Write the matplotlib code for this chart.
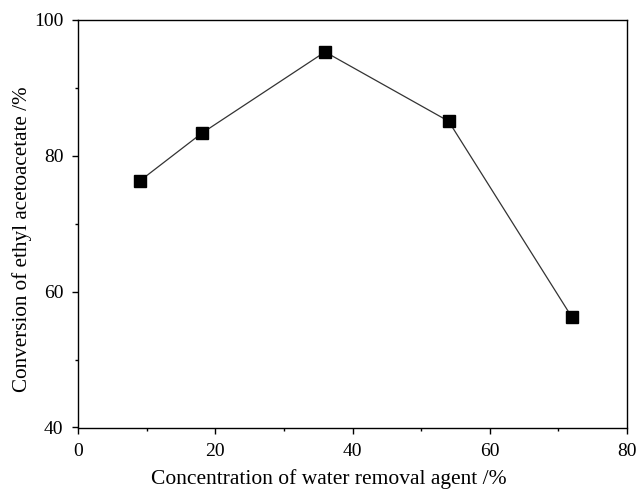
import matplotlib
matplotlib.use("Agg")
import matplotlib.pyplot as plt
from matplotlib.ticker import MultipleLocator

concentration = [9, 18, 36, 54, 72]
conversion = [76.3, 83.3, 95.3, 85.1, 56.2]

plt.rcParams['font.family'] = ['Liberation Serif', 'DejaVu Serif']

fig = plt.figure(figsize=(6.37, 4.91), dpi=100)
ax = fig.add_axes([78/637, 1 - 427.5/491, (627 - 78)/637, (427.5 - 20)/491])
ax.plot(concentration, conversion, color='#333333', linewidth=0.9,
        marker='s', markersize=8.5, markerfacecolor='black', markeredgecolor='black')
ax.set_xlim(0, 80)
ax.set_ylim(40, 100)
ax.xaxis.set_major_locator(MultipleLocator(20))
ax.xaxis.set_minor_locator(MultipleLocator(10))
ax.yaxis.set_major_locator(MultipleLocator(20))
ax.yaxis.set_minor_locator(MultipleLocator(10))
ax.tick_params(which='major', direction='out', length=4, width=1, labelsize=14)
ax.tick_params(axis='x', which='major', pad=7.5)
ax.tick_params(axis='y', which='major', pad=6.5)
ax.tick_params(which='minor', direction='out', length=2.5, width=1)
for s in ax.spines.values():
    s.set_linewidth(1)
ax.set_xlabel('Concentration of water removal agent /%', fontsize=15.5)
ax.set_ylabel('Conversion of ethyl acetoacetate /%', fontsize=15.2)
ax.xaxis.set_label_coords(0.457, -0.102)
ax.yaxis.set_label_coords(-0.084, 0.463)
fig.savefig('out.png', dpi=100)
